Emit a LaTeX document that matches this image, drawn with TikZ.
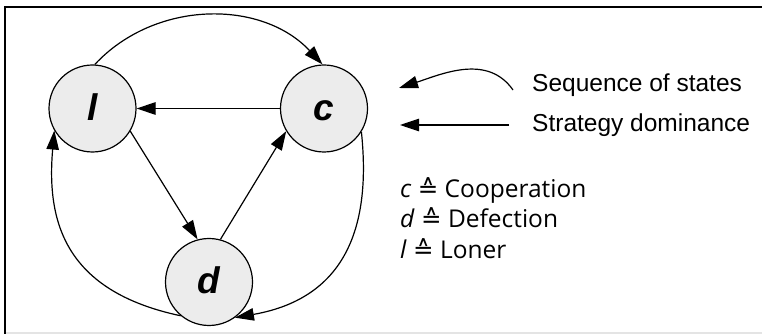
\documentclass[tikz,border=0pt]{standalone}
\usepackage{fontspec}
\setmainfont{Liberation Sans}
\newfontfamily\defsfont{Open Sans}
\newfontfamily\symfont{DejaVu Sans}
\usetikzlibrary{arrows.meta}
\definecolor{nodefill}{RGB}{236,236,236}
\definecolor{rulegray}{RGB}{228,228,228}
\begin{document}
\begin{tikzpicture}[x=1pt,y=1pt,
  state/.style={circle, draw=black, line width=1.2pt, fill=nodefill, minimum size=87pt, inner sep=0pt,
    font=\fontsize{37}{37}\selectfont\bfseries\itshape, text height=24pt, text depth=0pt},
  arr/.style={line width=1.2pt, -{Triangle[length=19pt,width=12.5pt]}},
  legtext/.style={anchor=base west, inner sep=0pt, font=\fontsize{24.5}{24.5}\selectfont},
  deftext/.style={anchor=base west, inner sep=0pt, font=\defsfont\fontsize{24.5}{24.5}\selectfont}
]
\useasboundingbox (0,0) rectangle (762,334);
% frame
\coordinate (fbl) at (5,0);
\coordinate (ftl) at (5,327);
\coordinate (ftr) at (762,327);
\coordinate (gbl) at (5,1);
\coordinate (gbr) at (762,1);
\draw[rulegray, line width=2pt] (gbl) -- (gbr);
\draw[black, line width=2pt] (fbl) -- (ftl) -- (ftr);

% states
\node[state] (l) at (92.5,225.5) {l};
\node[state] (c) at (324,225.5) {c};
\node[state] (d) at (209,52) {d};

% strategy dominance
\draw[arr] (c.west) -- (l.east);
\draw[arr] (l.-31) -- (d.105);
\draw[arr] (d.75) -- (c.211);

% sequence of states
\draw[arr] (l.87) to[out=47,in=133] (c.92);
\draw[arr] (c.-32) to[out=-84,in=10,out distance=92pt,in distance=115pt] (d.-54);
\draw[arr] (d.230) to[out=168,in=-95,out distance=118pt,in distance=92pt] (l.210);

% legend
\coordinate (s1) at (513,244);
\coordinate (s2) at (399,246);
\draw[arr] (s1) to[out=125,in=18] (s2);
\coordinate (p1) at (509,209);
\coordinate (p2) at (400,209);
\draw[arr] (p1) -- (p2);
\node[legtext] (t1) at (532,242) {Sequence of states};
\node[legtext] (t2) at (532,202) {Strategy dominance};

\node[deftext] (dc) at (400,136) {\textit{c} {\symfont ≙} Cooperation};
\node[deftext] (dd) at (400,106) {\textit{d} {\symfont ≙} Defection};
\node[deftext] (dl) at (400,75) {\textit{l} {\symfont ≙} Loner};
\end{tikzpicture}
\end{document}
